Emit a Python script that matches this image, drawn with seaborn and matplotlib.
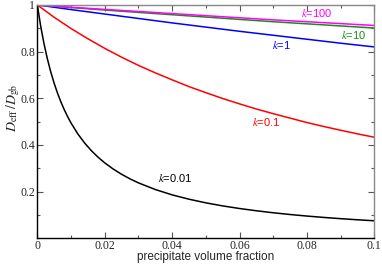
import matplotlib
matplotlib.use("Agg")
import matplotlib.pyplot as plt
import seaborn as sns
import pandas as pd
from matplotlib.ticker import MultipleLocator, FixedLocator

# ---- data ----
x_black = [0, 0.001, 0.002, 0.003, 0.004, 0.005, 0.006, 0.007, 0.008, 0.009,
           0.010, 0.012, 0.014, 0.016, 0.018, 0.020, 0.0225, 0.025, 0.0275,
           0.030, 0.035, 0.040, 0.045, 0.050, 0.055, 0.060, 0.065, 0.070,
           0.075, 0.080, 0.085, 0.090, 0.095, 0.100]
k001 = [1.0, 0.9089, 0.8327, 0.7680, 0.7124, 0.6641, 0.6217, 0.5843, 0.5510,
        0.5211, 0.4942, 0.4477, 0.4089, 0.3760, 0.3478, 0.3233, 0.2969, 0.2743,
        0.2547, 0.2375, 0.2090, 0.1861, 0.1675, 0.1519, 0.1388, 0.1276, 0.1179,
        0.1094, 0.1019, 0.0953, 0.0894, 0.0841, 0.0793, 0.0750]

x_red = [0, 0.005, 0.010, 0.015, 0.020, 0.025, 0.030, 0.035, 0.040, 0.045,
         0.050, 0.055, 0.060, 0.065, 0.070, 0.075, 0.080, 0.085, 0.090, 0.095, 0.100]
k01 = [1.0, 0.947, 0.899, 0.855, 0.814, 0.776, 0.741, 0.709, 0.679, 0.650,
       0.624, 0.599, 0.576, 0.554, 0.534, 0.515, 0.496, 0.479, 0.463, 0.4475, 0.433]

x_upper = [0, 0.01, 0.02, 0.03, 0.04, 0.05, 0.06, 0.07, 0.08, 0.09, 0.1]
k1 = [1.0, 0.980, 0.961, 0.942, 0.923, 0.905, 0.887, 0.870, 0.853, 0.836, 0.820]
k10 = [1.0, 0.989, 0.978, 0.968, 0.958, 0.948, 0.938, 0.928, 0.919, 0.910, 0.901]
k100 = [1.0, 0.990, 0.981, 0.972, 0.963, 0.954, 0.945, 0.936, 0.928, 0.920, 0.912]

series_names = ["k=0.01", "k=0.1", "k=1", "k=10", "k=100"]
label_text = [r"$\it{k}$=0.01", r"$\it{k}$=0.1", r"$\it{k}$=1", r"$\it{k}$=10", r"$\it{k}$=100"]
label_pos = [(0.0409, 0.257), (0.068, 0.50), (0.0725, 0.829), (0.094, 0.871), (0.0829, 0.964)]
colors = ["#000000", "#ff0000", "#0000ff", "#1a8a1a", "#ff00ff"]

x_ticks = [0, 0.02, 0.04, 0.06, 0.08, 0.1]
x_ticklabels = ["0", "0.02", "0.04", "0.06", "0.08", "0.1"]
y_ticks = [0.2, 0.4, 0.6, 0.8, 1.0]
y_ticklabels = ["0.2", "0.4", "0.6", "0.8", "1"]

rows = []
for name, xs, ys in [("k=0.01", x_black, k001), ("k=0.1", x_red, k01),
                     ("k=1", x_upper, k1), ("k=10", x_upper, k10),
                     ("k=100", x_upper, k100)]:
    for a, b in zip(xs, ys):
        rows.append({"phi": a, "D": b, "k": name})
df = pd.DataFrame(rows)

sns.set_theme(style="ticks")
plt.rcParams["mathtext.fontset"] = "stix"

fig = plt.figure(figsize=(3.82, 2.65), dpi=100)
ax = fig.add_axes([0.0977, 0.1008, 0.8822, 0.8806])

sns.lineplot(data=df, x="phi", y="D", hue="k", hue_order=series_names,
             palette=colors, linewidth=1.1, legend=False, ax=ax,
             estimator=None, sort=True)

for t, (px, py), c in zip(label_text, label_pos, colors):
    ax.text(px, py, t, color=c, fontsize=8, family="Liberation Sans",
            ha="center", va="center")

ax.set_xlim(0, 0.1)
ax.set_ylim(0, 1)
ax.xaxis.set_major_locator(FixedLocator(x_ticks))
ax.set_xticklabels(x_ticklabels)
ax.xaxis.set_minor_locator(MultipleLocator(0.01))
ax.yaxis.set_major_locator(FixedLocator(y_ticks))
ax.set_yticklabels(y_ticklabels)
ax.yaxis.set_minor_locator(MultipleLocator(0.1))

ax.tick_params(which="both", direction="in", top=True, right=True,
               color="#555555", width=0.8, labelsize=8.5,
               labelfontfamily="Liberation Serif")
ax.tick_params(which="major", length=4.5, pad=1.5)
ax.tick_params(which="minor", length=2.5)

ax.set_xlabel("precipitate volume fraction", family="Liberation Sans",
              fontsize=8.5)
ax.xaxis.set_label_coords(0.5, -0.082, transform=ax.transAxes)
ax.xaxis.label.set_va("center")
ax.set_ylabel(r"$D_{\rm eff}\,/D_{\rm gb}$", fontsize=10)
ax.yaxis.set_label_coords(-0.072, 0.56, transform=ax.transAxes)
ax.yaxis.label.set_va("center")

for s in ["left", "bottom"]:
    ax.spines[s].set_color("#000000")
    ax.spines[s].set_linewidth(1.0)
for s in ["top", "right"]:
    ax.spines[s].set_color("#888888")
    ax.spines[s].set_linewidth(1.0)

fig.savefig("out.png", dpi=100)
